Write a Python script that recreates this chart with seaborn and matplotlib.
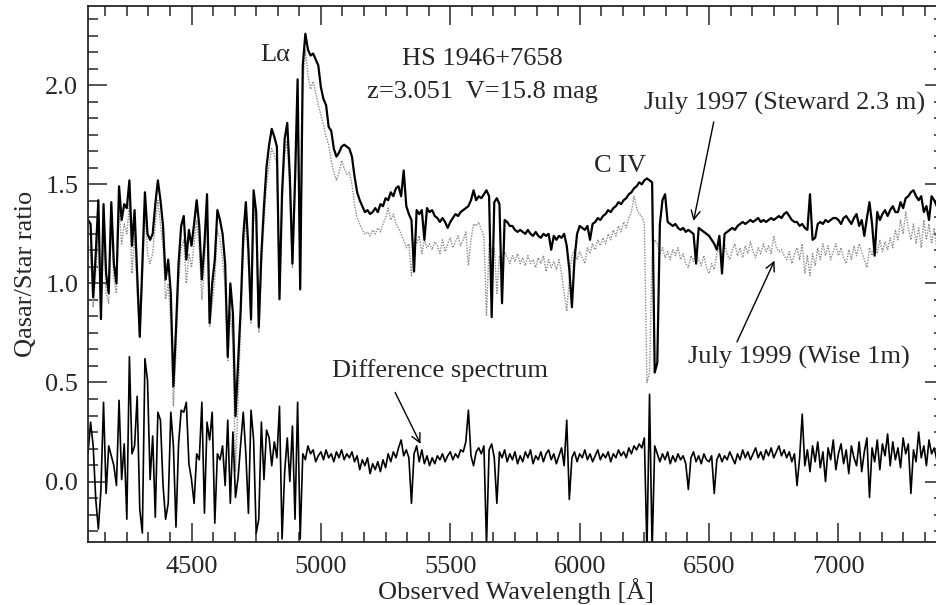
import numpy as np
import pandas as pd
import matplotlib
matplotlib.use('Agg')
import matplotlib.pyplot as plt
from matplotlib.ticker import MultipleLocator
import seaborn as sns

wave = np.arange(4100, 7401, 10)

# July 1997 (Steward 2.3 m), qasar/star ratio
flux_1997 = [
    1.32, 1.30, 0.93, 1.15, 1.42, 0.82, 1.40, 1.05, 0.95, 1.41,
    1.10, 1.00, 1.49, 1.32, 1.40, 1.38, 1.52, 1.19, 1.37, 1.05,
    0.73, 1.10, 1.46, 1.25, 1.22, 1.25, 1.40, 1.52, 1.42, 1.29,
    1.02, 1.12, 0.95, 0.48, 0.77, 1.10, 1.29, 1.34, 1.12, 1.27,
    1.19, 1.30, 1.42, 1.29, 1.02, 1.20, 1.45, 0.80, 1.00, 1.12,
    1.37, 1.32, 1.25, 1.10, 0.63, 1.00, 0.85, 0.33, 0.60, 0.87,
    1.24, 1.41, 1.17, 0.82, 1.47, 1.36, 0.78, 1.15, 1.39, 1.59,
    1.70, 1.78, 1.74, 1.69, 0.92, 1.46, 1.73, 1.81, 1.54, 1.10,
    1.52, 2.03, 0.97, 2.10, 2.26, 2.18, 2.15, 2.16, 2.13, 2.10,
    1.99, 1.93, 1.90, 1.79, 1.77, 1.68, 1.64, 1.66, 1.69, 1.70,
    1.69, 1.68, 1.64, 1.54, 1.46, 1.42, 1.39, 1.36, 1.37, 1.35,
    1.36, 1.38, 1.36, 1.40, 1.39, 1.43, 1.42, 1.46, 1.44, 1.48,
    1.49, 1.44, 1.57, 1.39, 1.35, 1.32, 1.06, 1.37, 1.35, 1.37,
    1.22, 1.38, 1.36, 1.37, 1.34, 1.33, 1.31, 1.33, 1.31, 1.28,
    1.31, 1.33, 1.35, 1.34, 1.36, 1.37, 1.38, 1.39, 1.42, 1.47,
    1.42, 1.44, 1.43, 1.45, 1.47, 1.44, 0.83, 1.41, 1.43, 1.40,
    0.90, 1.32, 1.31, 1.29, 1.29, 1.27, 1.26, 1.27, 1.26, 1.25,
    1.27, 1.25, 1.24, 1.26, 1.24, 1.23, 1.25, 1.24, 1.25, 1.17,
    1.24, 1.22, 1.24, 1.23, 1.25, 1.19, 1.07, 0.88, 1.12, 1.25,
    1.29, 1.28, 1.27, 1.29, 1.22, 1.30, 1.31, 1.33, 1.32, 1.34,
    1.35, 1.37, 1.36, 1.38, 1.39, 1.41, 1.40, 1.42, 1.43, 1.45,
    1.46, 1.48, 1.49, 1.51, 1.50, 1.52, 1.53, 1.52, 1.51, 0.55,
    0.60, 1.30, 1.42, 1.45, 1.31, 1.30, 1.29, 1.30, 1.28, 1.27,
    1.28, 1.26, 1.27, 1.26, 1.25, 1.10, 1.28, 1.27, 1.26, 1.25,
    1.24, 1.22, 1.20, 1.17, 1.24, 1.05, 1.25, 1.26, 1.27, 1.28,
    1.27, 1.29, 1.30, 1.31, 1.30, 1.31, 1.32, 1.31, 1.32, 1.33,
    1.31, 1.32, 1.31, 1.32, 1.33, 1.32, 1.33, 1.34, 1.33, 1.35,
    1.36, 1.34, 1.32, 1.31, 1.31, 1.29, 1.30, 1.28, 1.27, 1.45,
    1.22, 1.23, 1.30, 1.31, 1.30, 1.32, 1.31, 1.32, 1.33, 1.33,
    1.32, 1.30, 1.33, 1.34, 1.32, 1.30, 1.33, 1.35, 1.29, 1.32,
    1.24, 1.33, 1.41, 1.30, 1.14, 1.36, 1.32, 1.35, 1.37, 1.34,
    1.37, 1.39, 1.36, 1.36, 1.41, 1.38, 1.43, 1.44, 1.46, 1.47,
    1.44, 1.42, 1.44, 1.36, 1.39, 1.32, 1.44, 1.42, 1.39, 1.36,
    1.34,
]

# July 1999 (Wise 1 m)
flux_1999 = [
    1.20, 1.15, 0.88, 1.05, 1.30, 0.85, 1.28, 0.95, 0.90, 1.30,
    1.02, 0.95, 1.38, 1.20, 1.30, 1.25, 1.40, 1.05, 1.25, 0.95,
    0.75, 1.00, 1.36, 1.15, 1.10, 1.15, 1.30, 1.42, 1.30, 1.18,
    0.92, 1.00, 0.80, 0.38, 0.65, 1.00, 1.18, 1.22, 1.00, 1.15,
    1.08, 1.20, 1.32, 1.18, 0.92, 1.10, 1.35, 0.78, 0.90, 1.02,
    1.27, 1.22, 1.12, 0.98, 0.61, 0.85, 0.70, 0.05, 0.40, 0.80,
    1.15, 1.32, 1.10, 0.80, 1.38, 1.28, 0.75, 1.08, 1.30, 1.50,
    1.60, 1.68, 1.65, 1.60, 0.95, 1.40, 1.65, 1.72, 1.45, 1.08,
    1.45, 1.90, 1.00, 2.00, 2.18, 2.05, 1.98, 2.02, 1.96, 1.90,
    1.85, 1.80, 1.74, 1.70, 1.62, 1.56, 1.52, 1.56, 1.62, 1.58,
    1.55, 1.56, 1.50, 1.40, 1.33, 1.30, 1.27, 1.25, 1.26, 1.24,
    1.27, 1.25, 1.28, 1.26, 1.30, 1.33, 1.38, 1.32, 1.35, 1.30,
    1.28, 1.25, 1.22, 1.18, 1.20, 1.04, 1.22, 1.20, 1.24, 1.15,
    1.22, 1.18, 1.20, 1.17, 1.21, 1.19, 1.15, 1.22, 1.16, 1.20,
    1.23, 1.18, 1.21, 1.24, 1.19, 1.22, 1.26, 1.09, 1.22, 1.30,
    1.29, 1.31, 1.27, 1.24, 0.84, 1.20, 1.16, 1.18, 0.95, 1.14,
    1.12, 1.16, 1.13, 1.10, 1.14, 1.11, 1.15, 1.10, 1.13, 1.09,
    1.14, 1.10, 1.12, 1.08, 1.13, 1.10, 1.14, 1.06, 1.12, 1.08,
    1.11, 1.07, 1.12, 1.05, 0.95, 0.86, 1.02, 1.14, 1.17, 1.12,
    1.16, 1.13, 1.10, 1.18, 1.15, 1.20, 1.17, 1.22, 1.19, 1.23,
    1.20, 1.25, 1.22, 1.27, 1.24, 1.29, 1.26, 1.31, 1.28, 1.33,
    1.36, 1.44, 1.38, 1.35, 1.34, 1.30, 0.50, 0.55, 1.15, 1.22,
    1.20, 1.15, 1.18, 1.13, 1.16, 1.12, 1.17, 1.14, 1.18, 1.12,
    1.15, 1.10, 1.08, 1.14, 1.11, 1.16, 1.12, 1.09, 1.14, 1.08,
    1.05, 1.10, 1.07, 1.15, 1.18, 1.13, 1.20, 1.15, 1.12, 1.17,
    1.20, 1.14, 1.18, 1.13, 1.19, 1.15, 1.21, 1.16, 1.13, 1.18,
    1.15, 1.20, 1.16, 1.19, 1.15, 1.24, 1.18, 1.16, 1.17, 1.14,
    1.12, 1.16, 1.10, 1.15, 1.18, 1.12, 1.20, 1.05, 1.14, 1.04,
    1.15, 1.09, 1.18, 1.12, 1.20, 1.14, 1.19, 1.12, 1.16, 1.20,
    1.14, 1.18, 1.13, 1.10, 1.17, 1.12, 1.19, 1.14, 1.20, 1.16,
    1.12, 1.08, 1.18, 1.14, 1.20, 1.15, 1.22, 1.16, 1.21, 1.17,
    1.23, 1.18, 1.27, 1.22, 1.32, 1.25, 1.36, 1.28, 1.22, 1.30,
    1.20, 1.28, 1.18, 1.32, 1.22, 1.30, 1.20, 1.28, 1.18, 1.25,
    1.20,
]

# difference spectrum
flux_diff = [
    0.14, 0.30, 0.18, -0.09, -0.24, -0.04, 0.40, -0.06, 0.18, 0.13,
    0.08, -0.02, 0.41, 0.01, 0.19, -0.19, 0.63, 0.14, 0.18, 0.43,
    -0.14, -0.26, 0.62, 0.51, 0.01, 0.23, -0.18, 0.35, 0.31, -0.02,
    -0.19, -0.11, 0.35, 0.18, -0.23, 0.19, 0.36, 0.35, 0.40, 0.09,
    0.01, -0.11, 0.14, 0.11, 0.40, -0.16, 0.30, 0.21, 0.35, -0.21,
    0.14, 0.11, 0.18, -0.02, 0.31, -0.11, 0.25, -0.08, 0.02, 0.19,
    0.35, 0.14, -0.16, 0.36, 0.21, -0.26, -0.19, 0.30, 0.01, 0.26,
    0.22, 0.08, 0.20, 0.12, 0.38, -0.29, 0.05, 0.22, 0.00, 0.28,
    -0.19, 0.40, -0.29, 0.14, 0.11, 0.18, 0.14, 0.16, 0.10, 0.13,
    0.15, 0.11, 0.16, 0.12, 0.14, 0.10, 0.15, 0.12, 0.16, 0.11,
    0.14, 0.12, 0.15, 0.10, 0.13, 0.06, 0.11, 0.08, 0.12, 0.04,
    0.09, 0.06, 0.10, 0.05, 0.11, 0.07, 0.14, 0.10, 0.15, 0.12,
    0.17, 0.21, 0.13, 0.16, 0.12, -0.11, 0.14, 0.18, 0.10, 0.16,
    0.09, 0.13, 0.08, 0.12, 0.09, 0.13, 0.11, 0.14, 0.10, 0.13,
    0.15, 0.11, 0.14, 0.12, 0.16, 0.15, 0.20, 0.36, 0.13, 0.08,
    0.15, 0.17, 0.14, 0.18, -0.32, 0.16, 0.19, 0.12, -0.11, 0.15,
    0.12, 0.16, 0.10, 0.14, 0.11, 0.15, 0.09, 0.13, 0.10, 0.15,
    0.12, 0.16, 0.09, 0.13, 0.11, 0.15, 0.10, 0.14, 0.16, 0.11,
    0.14, 0.09, 0.13, 0.17, 0.08, 0.31, -0.09, 0.12, 0.15, 0.10,
    0.14, 0.12, 0.16, 0.11, 0.14, 0.10, 0.13, 0.16, 0.11, 0.14,
    0.12, 0.15, 0.10, 0.14, 0.12, 0.16, 0.13, 0.15, 0.12, 0.17,
    0.14, 0.18, 0.16, 0.19, 0.17, 0.22, -0.35, 0.44, -0.35, 0.18,
    0.14, 0.10, 0.14, 0.11, 0.15, 0.09, 0.13, 0.10, 0.14, 0.11,
    0.13, 0.09, -0.04, 0.12, 0.15, 0.10, 0.13, 0.09, 0.14, 0.11,
    0.10, 0.13, -0.06, 0.11, 0.14, 0.10, 0.13, 0.11, 0.15, 0.12,
    0.09, 0.14, 0.11, 0.16, 0.12, 0.15, 0.11, 0.14, 0.17, 0.12,
    0.15, 0.11, 0.16, 0.13, 0.17, 0.12, 0.15, 0.18, 0.13, 0.16,
    0.12, 0.15, 0.10, 0.14, -0.02, 0.12, 0.34, 0.08, 0.16, 0.05,
    0.18, 0.10, 0.20, 0.07, 0.15, 0.00, 0.17, 0.11, 0.21, 0.06,
    0.14, 0.19, 0.09, 0.16, 0.04, 0.18, 0.12, 0.08, 0.20, 0.05,
    0.15, 0.22, -0.08, 0.17, 0.10, 0.21, 0.06, 0.19, 0.13, 0.24,
    0.08, 0.20, 0.11, 0.17, 0.07, 0.22, 0.14, 0.19, -0.06, 0.16,
    0.10, 0.25, 0.12, 0.18, 0.08, 0.21, 0.14, 0.17, 0.11, 0.19,
    0.15,
]

df = pd.DataFrame({'wave': wave, 'f1997': flux_1997,
                   'f1999': flux_1999, 'diff': flux_diff})

sns.set_style('ticks')
plt.rcParams['font.family'] = ['Liberation Serif', 'DejaVu Serif']

fig = plt.figure(figsize=(9.37, 6.05), dpi=100)
# the right frame of the original figure is cut off at the image edge
ax = fig.add_axes([88 / 937, 63 / 605, 855.5 / 937, 536 / 605])

sns.lineplot(data=df, x='wave', y='f1999', ax=ax, color='#8a8a8a',
             lw=1.0, linestyle=(0, (1, 1)), estimator=None, sort=False)
sns.lineplot(data=df, x='wave', y='f1997', ax=ax, color='black',
             lw=1.6, estimator=None, sort=False)
sns.lineplot(data=df, x='wave', y='diff', ax=ax, color='black',
             lw=1.2, estimator=None, sort=False)

ax.set_xlim(4100, 7406)
ax.set_ylim(-0.305, 2.40)

ax.xaxis.set_major_locator(MultipleLocator(500))
ax.xaxis.set_minor_locator(MultipleLocator(500 / 6))
ax.yaxis.set_major_locator(MultipleLocator(0.5))
ax.yaxis.set_minor_locator(MultipleLocator(0.5 / 6))
fs = 19
ax.tick_params(which='both', direction='in', top=True, right=True,
               width=1.1, labelsize=fs)
ax.tick_params(which='major', length=13.5)
ax.tick_params(which='minor', length=7)
ax.tick_params(axis='x', which='major', pad=10)
ax.tick_params(axis='y', which='major', pad=7)
ax.yaxis.set_major_formatter(plt.FuncFormatter(lambda v, p: f'{v:.1f}'))
for s in ax.spines.values():
    s.set_linewidth(1.3)

ax.set_xlabel('Observed Wavelength [Å]', fontsize=fs, labelpad=0)
ax.set_ylabel('Qasar/Star ratio', fontsize=fs, labelpad=6)

ax.text(4823, 2.12, 'Lα', fontsize=fs, ha='center', va='baseline')
ax.text(5623, 2.10, 'HS 1946+7658', fontsize=fs, ha='center', va='baseline')
ax.text(5623, 1.935, 'z=3.051  V=15.8 mag', fontsize=fs, ha='center', va='baseline')
ax.text(6157, 1.56, 'C IV', fontsize=fs, ha='center', va='baseline')
ax.text(6790, 1.877, 'July 1997 (Steward 2.3 m)', fontsize=fs, ha='center', va='baseline')
ax.text(6849, 0.595, 'July 1999 (Wise 1m)', fontsize=fs, ha='center', va='baseline')
ax.text(5461, 0.527, 'Difference spectrum', fontsize=fs, ha='center', va='baseline')

arrow = dict(arrowstyle='->', color='black', lw=1.0, shrinkA=0, shrinkB=0,
             mutation_scale=16)
ax.annotate('', xy=(6440, 1.315), xytext=(6518, 1.815), arrowprops=arrow)
ax.annotate('', xy=(6753, 1.115), xytext=(6608, 0.705), arrowprops=arrow)
ax.annotate('', xy=(5385, 0.19), xytext=(5287, 0.45), arrowprops=arrow)

fig.savefig('out.png', dpi=100)
